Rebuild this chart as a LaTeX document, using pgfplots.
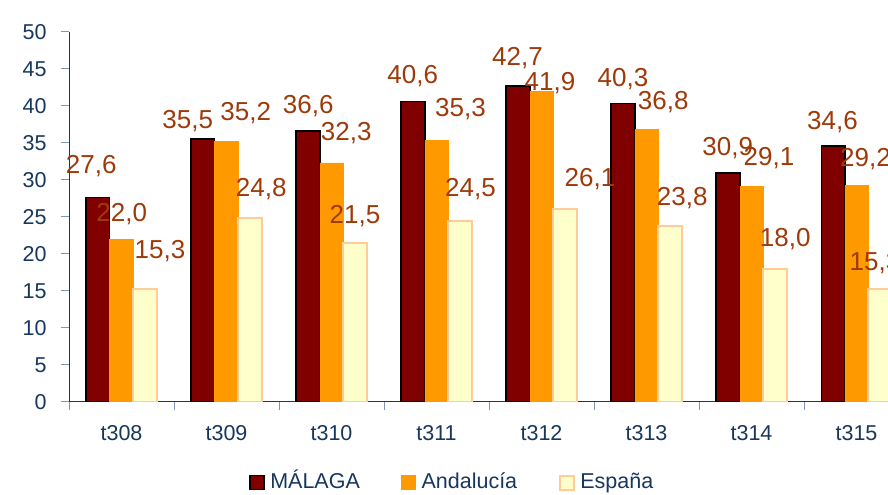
\documentclass[border=0pt]{standalone}
\usepackage{fontspec}
\setmainfont{Liberation Sans}
\usepackage{pgfplots}
\pgfplotsset{compat=1.18}
\usepackage{pgfplotstable}
\definecolor{malaga}{RGB}{128,0,0}
\definecolor{andal}{RGB}{255,153,0}
\definecolor{espf}{RGB}{255,255,204}
\definecolor{espd}{RGB}{255,204,153}
\definecolor{labcol}{RGB}{158,58,10}
\definecolor{navy}{RGB}{23,55,94}
\definecolor{tickcol}{RGB}{130,150,180}
\pgfplotstableread{
x y dx dy lab
0 27.6 -6.7 33.1 27,6
1 35.5 -15.3 19.9 35,5
2 36.6 0.3 27.1 36,6
3 40.6 -0.2 27.1 40,6
4 42.7 -0.5 29.5 42,7
5 40.3 0 26.8 40,3
6 30.9 -0.3 27.4 30,9
7 34.6 -0.5 25.8 34,6
}\malagatab
\pgfplotstableread{
x y dx dy lab
0 22.0 0.2 26.6 22,0
1 35.2 19.3 30.5 35,2
2 32.3 14.8 32 32,3
3 35.3 24 33.1 35,3
4 41.9 8.5 10.9 41,9
5 36.8 16.8 29.5 36,8
6 29.1 17.5 30.7 29,1
7 29.2 9 28.2 29,2
}\andaltab
\pgfplotstableread{
x y dx dy lab
0 15.3 15 39.2 15,3
1 24.8 11.3 31.6 24,8
2 21.5 0 28.6 21,5
3 24.5 10.5 33.1 24,5
4 26.1 25 31.2 26,1
5 23.8 12.3 29.9 23,8
6 18.0 10.3 31.2 18,0
7 15.3 -5 27.7 15,3
}\esptab
\pgfplotsset{sqleg/.style={legend image code/.code={\draw[##1] (0bp,-7bp) rectangle (14bp,7bp);}}}
\begin{document}
\begin{tikzpicture}
\path[use as bounding box] (0,0) rectangle (888bp,495bp);
\clip (0,0) rectangle (888bp,495bp);
\begin{axis}[
  at={(69bp,93bp)}, anchor=south west,
  scale only axis, width=840bp, height=370.3bp,
  xmin=-0.5, xmax=7.5, ymin=0, ymax=50,
  axis x line*=bottom, axis y line*=left,
  axis line style={draw=navy, line width=1bp},
  ytick={0,5,...,50},
  xtick={-0.5,0.5,1.5,2.5,3.5,4.5,5.5,6.5},
  xticklabels={t308,t309,t310,t311,t312,t313,t314,t315},
  x tick label style={xshift=52.5bp, yshift=-12bp},
  y tick label style={xshift=-11.5bp},
  tick align=outside, major tick length=7.5bp,
  tick style={draw=tickcol, line width=1bp},
  ticklabel style={font=\fontsize{21.5bp}{24bp}\selectfont, text=navy},
  /pgf/number format/assume math mode=true,
  ybar=0pt, bar width=23.5bp,
  point meta=explicit symbolic,
  nodes near coords,
  visualization depends on={\thisrow{dx}\as\dx},
  visualization depends on={\thisrow{dy}\as\dy},
  every node near coord/.append style={anchor=base, xshift={\dx*1bp}, yshift={(\dy-9.3)*1bp}, font=\fontsize{26bp}{30bp}\selectfont, text=labcol, inner sep=0pt},
  legend style={at={(0.455,-0.218)}, anchor=center, draw=none, fill=none,
    legend columns=-1, font=\fontsize{21.5bp}{24bp}\selectfont, text=navy,
    nodes={inner sep=0pt, text height=15.5bp, text depth=4.5bp},
    /tikz/every odd column/.append style={column sep=5.7bp},
    /tikz/every even column/.append style={column sep=41.5bp}},
]
\addplot[fill=malaga, draw=black, line width=1.5bp, sqleg] table[x=x,y=y,meta=lab]{\malagatab};
\addplot[fill=andal, draw=andal, line width=0.5bp, sqleg] table[x=x,y=y,meta=lab]{\andaltab};
\addplot[fill=espf, draw=espd, line width=2bp, sqleg] table[x=x,y=y,meta=lab]{\esptab};
\legend{MÁLAGA,Andalucía,España}
\end{axis}
\end{tikzpicture}
\end{document}
